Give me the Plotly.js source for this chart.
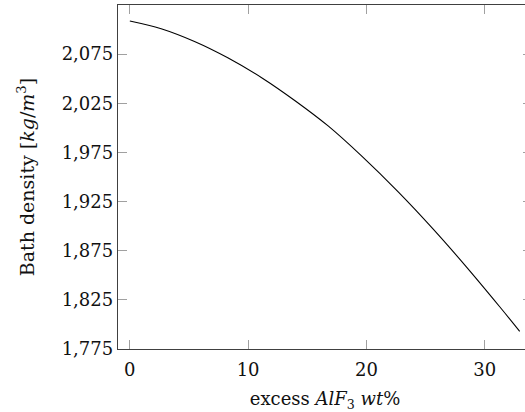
<!DOCTYPE html>
<html>
<head>
<meta charset="utf-8">
<script src="https://cdn.plot.ly/plotly-3.0.1.min.js"></script>
<style>
  html, body { margin: 0; padding: 0; overflow: hidden; background: #fff; }
  #chart { width: 534px; height: 412px; }
</style>
</head>
<body>
<div id="chart"></div>
<script>
// Excess AlF3 content of the bath, wt%
const excessAlF3 = [0, 2.65, 5.47, 8.28, 11.24, 13.97, 16.79, 19.61, 22.71, 25.63, 28.45, 31.27, 32.96];
// Bath density, kg/m^3
const bathDensity = [2108.8, 2100.9, 2087.9, 2071.3, 2050.3, 2027.6, 2001.7, 1971.2, 1934.6, 1897.2, 1858.6, 1818.0, 1793.0];

const xTicks = [0, 10, 20, 30];
const yTicks = [1775, 1825, 1875, 1925, 1975, 2025, 2075];

const serif = '"DejaVu Serif", serif';

const trace = {
  x: excessAlF3,
  y: bathDensity,
  type: 'scatter',
  mode: 'lines',
  line: { color: '#000', width: 1.1, shape: 'spline', smoothing: 1 },
  hoverinfo: 'skip'
};

const axisCommon = {
  showgrid: false,
  zeroline: false,
  showline: true,
  linecolor: '#404040',
  linewidth: 1.2,
  mirror: 'ticks',
  ticks: 'inside',
  ticklen: 9,
  tickwidth: 1,
  tickcolor: '#a0a0a0',
  tickfont: { family: serif, size: 18, color: '#111' }
};

const layout = {
  width: 534,
  height: 412,
  margin: { l: 118, r: 2, t: 4.5, b: 63 },
  paper_bgcolor: '#fff',
  plot_bgcolor: '#fff',
  showlegend: false,
  xaxis: Object.assign({}, axisCommon, {
    range: [-1, 34],
    tickmode: 'array',
    tickvals: xTicks,
    ticktext: xTicks.map(String),
    ticklabelstandoff: 4,
    title: {
      text: 'excess <i>AlF</i><sub>3</sub> <i>wt</i>%',
      font: { family: serif, size: 18, color: '#111' },
      standoff: 14
    }
  }),
  yaxis: Object.assign({}, axisCommon, {
    range: [1775, 2125],
    tickmode: 'array',
    tickvals: yTicks,
    ticktext: yTicks.map(v => v.toLocaleString('en-US')),
    title: {
      text: 'Bath density [<i>kg</i>/<i>m</i><sup>3</sup>]',
      font: { family: serif, size: 19, color: '#111' },
      standoff: 22
    }
  })
};

Plotly.newPlot('chart', [trace], layout, { displayModeBar: false, staticPlot: true });
</script>
</body>
</html>
